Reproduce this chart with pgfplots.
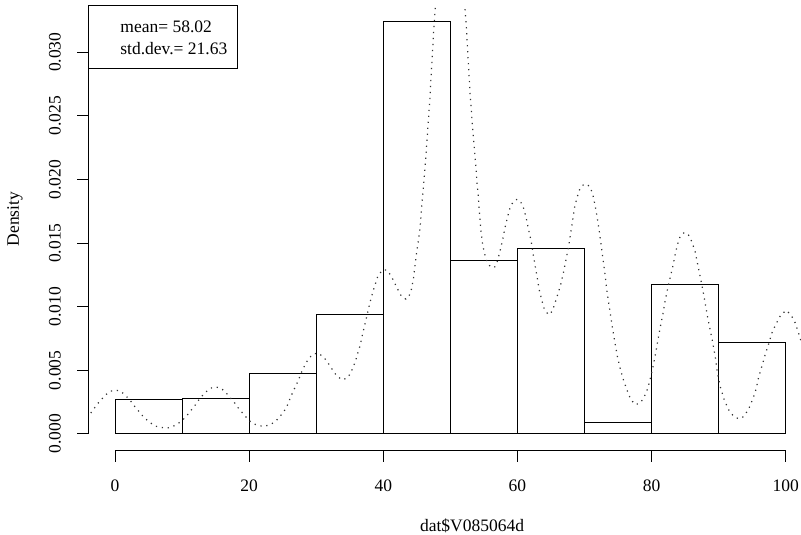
\documentclass[border=0pt]{standalone}
\usepackage{fontspec}
\setmainfont{Liberation Serif}
\usepackage{pgfplots}
\pgfplotsset{compat=1.18}

\newcommand{\rfont}{\fontsize{17.5}{21}\selectfont}

\begin{document}
\begin{tikzpicture}[x=1pt,y=1pt]
\begin{axis}[
  scale only axis, width=712.8pt, height=445.7pt,
  xmin=-4, xmax=102.28, ymin=-0.001336, ymax=0.0337,
  axis x line*=bottom, axis y line*=left,
  axis line style={draw=none},
  xtick={0,20,40,60,80,100},
  ytick={0,0.005,0.01,0.015,0.02,0.025,0.03},
  tick align=outside, major tick length=10.7pt,
  tick style={black, line width=1pt},
  scaled y ticks=false,
  /pgf/number format/assume math mode=true,
  tick label style={font=\rfont},
  xticklabel shift=15pt, yticklabel shift=13pt,
  yticklabel style={/pgf/number format/.cd, fixed, fixed zerofill, precision=3, /tikz/.cd, rotate=90, anchor=south},
  clip=true,
]
% histogram (density scale)
\addplot[ybar interval, draw=black, fill=white, line width=1pt] coordinates {
  (0,0.00267) (10,0.00277) (20,0.00472) (30,0.00938) (40,0.03241)
  (50,0.01360) (60,0.01454) (70,0.00092) (80,0.01177) (90,0.00721) (100,0)};
% kernel density, dotted
\addplot[black!80, line width=1.2pt, dash pattern=on 1.2pt off 4.8pt] coordinates {
(-4.10,0.00125)(-3.66,0.00161)(-2.57,0.00239)(-1.42,0.00307)(-0.67,0.00336)(0.18,0.00344)(0.93,0.00333)(1.67,0.00296)(2.27,0.00263)(2.81,0.00224)(3.40,0.00187)(3.96,0.00151)(4.55,0.00119)(5.25,0.00088)(6.04,0.00061)(6.90,0.00051)(7.73,0.00045)(8.63,0.00059)(9.37,0.00080)(10.12,0.00111)(10.72,0.00145)(11.27,0.00182)(11.82,0.00216)(12.31,0.00255)(12.87,0.00292)(13.51,0.00328)(14.21,0.00359)(15.00,0.00370)(15.85,0.00357)(16.49,0.00328)(17.09,0.00289)(17.69,0.00255)(18.24,0.00213)(18.78,0.00179)(19.33,0.00145)(19.93,0.00108)(20.57,0.00082)(21.46,0.00064)(22.36,0.00061)(23.21,0.00075)(23.96,0.00100)(24.55,0.00135)(25.15,0.00174)(25.64,0.00218)(26.24,0.00296)(26.64,0.00344)(27.04,0.00388)(27.43,0.00433)(27.69,0.00472)(28.03,0.00511)(28.43,0.00555)(28.93,0.00595)(29.52,0.00629)(30.33,0.00634)(31.07,0.00605)(31.61,0.00571)(32.12,0.00529)(32.61,0.00490)(33.10,0.00453)(33.91,0.00425)(34.66,0.00441)(35.15,0.00480)(35.79,0.00563)(36.09,0.00613)(36.30,0.00657)(36.60,0.00702)(36.75,0.00747)(36.94,0.00791)(37.49,0.00914)(37.99,0.01029)(38.39,0.01107)(38.73,0.01165)(39.22,0.01245)(39.88,0.01288)(40.48,0.01288)(41.07,0.01251)(41.46,0.01212)(41.87,0.01167)(42.27,0.01125)(42.72,0.01081)(43.36,0.01060)(43.85,0.01086)(44.21,0.01139)(44.51,0.01225)(44.70,0.01316)(44.96,0.01421)(45.19,0.01504)(45.45,0.01604)(45.60,0.01696)(45.75,0.01800)(45.90,0.01892)(46.04,0.01975)(46.19,0.02069)(46.45,0.02257)(46.69,0.02441)(46.94,0.02629)(47.13,0.02817)(47.34,0.03005)(47.54,0.03194)(47.73,0.03329)(48.5,0.0385)(49.3,0.0410)(50.0,0.0420)(50.7,0.0410)(51.5,0.0385)
(52.16,0.03361)(52.36,0.03220)(52.51,0.03078)(52.66,0.02937)(52.81,0.02796)(52.96,0.02655)(53.16,0.02519)(53.36,0.02373)(53.61,0.02231)(53.81,0.02090)(54.00,0.01955)(54.15,0.01878)(54.30,0.01761)(54.45,0.01669)(54.60,0.01578)(54.81,0.01486)(55.15,0.01408)(55.55,0.01343)(56.04,0.01311)(56.60,0.01311)(56.99,0.01355)(57.39,0.01434)(57.79,0.01525)(58.13,0.01617)(58.54,0.01708)(58.88,0.01774)(59.37,0.01826)(59.97,0.01845)(60.63,0.01813)(60.97,0.01766)(61.37,0.01682)(61.72,0.01591)(62.06,0.01512)(62.36,0.01408)(62.66,0.01316)(62.96,0.01225)(63.25,0.01133)(63.61,0.01055)(63.96,0.00990)(64.60,0.00937)(65.19,0.00963)(65.60,0.01029)(66.00,0.01094)(66.45,0.01173)(66.84,0.01264)(67.24,0.01369)(67.58,0.01460)(67.94,0.01578)(68.24,0.01682)(68.54,0.01787)(68.93,0.01865)(69.33,0.01931)(69.82,0.01957)(70.42,0.01962)(70.93,0.01931)(71.31,0.01865)(71.61,0.01787)(71.91,0.01696)(72.21,0.01591)(72.51,0.01473)(72.81,0.01355)(73.10,0.01238)(73.31,0.01133)(73.61,0.01029)(73.91,0.00924)(74.21,0.00820)(74.55,0.00715)(74.90,0.00610)(75.30,0.00519)(75.79,0.00427)(76.30,0.00349)(76.90,0.00271)(77.54,0.00231)(78.18,0.00239)(78.78,0.00276)(79.37,0.00349)(79.78,0.00427)(80.18,0.00519)(80.52,0.00610)(80.87,0.00715)(81.27,0.00833)(81.67,0.00937)(82.01,0.01042)(82.36,0.01133)(82.76,0.01225)(83.16,0.01316)(83.51,0.01408)(83.85,0.01486)(84.25,0.01551)(84.85,0.01583)(85.49,0.01565)(86.00,0.01512)(86.49,0.01434)(86.84,0.01343)(87.24,0.01238)(87.64,0.01133)(87.99,0.01029)(88.33,0.00924)(88.73,0.00820)(89.13,0.00715)(89.48,0.00610)(89.82,0.00480)(90.22,0.00375)(90.82,0.00271)(91.46,0.00192)(92.21,0.00140)(92.96,0.00119)(93.70,0.00135)(94.45,0.00192)(95.10,0.00276)(95.60,0.00355)(95.94,0.00441)(96.45,0.00532)(96.94,0.00624)(97.43,0.00702)(97.94,0.00794)(98.58,0.00867)(99.28,0.00937)(100.07,0.00971)(100.78,0.00937)(101.42,0.00872)(101.91,0.00794)(102.31,0.00725)};
\coordinate (xa) at (axis cs:0,-0.001336);
\coordinate (xb) at (axis cs:100,-0.001336);
\coordinate (ya) at (axis cs:-4,0);
\coordinate (yb) at (axis cs:-4,0.03);
\coordinate (tl) at (rel axis cs:0,1);
\coordinate (O) at (axis cs:-17.15,0.03411);
\coordinate (BR) at (axis cs:102.28,-0.00794);
\end{axis}
% axis lines spanning the tick range only
\draw[line width=1pt] (xa) -- (xb);
\draw[line width=1pt] (ya) -- (yb);
% legend box
\draw[line width=1pt, fill=white] (tl) rectangle ++(149.3pt,-63.7pt);
\node[anchor=base west, inner sep=0pt, font=\rfont] at ([xshift=32pt,yshift=-27pt]tl) {mean= 58.02};
\node[anchor=base west, inner sep=0pt, font=\rfont] at ([xshift=32pt,yshift=-49.7pt]tl) {std.dev.= 21.63};
% axis titles
\node[anchor=base, inner sep=0pt, font=\rfont] at ([xshift=472pt,yshift=-531.5pt]O) {dat\$V085064d};
\node[rotate=90, inner sep=0pt, font=\rfont] at ([xshift=15pt,yshift=-219pt]O) {Density};
\pgfresetboundingbox
\path (O) rectangle (BR);
\end{tikzpicture}
\end{document}
